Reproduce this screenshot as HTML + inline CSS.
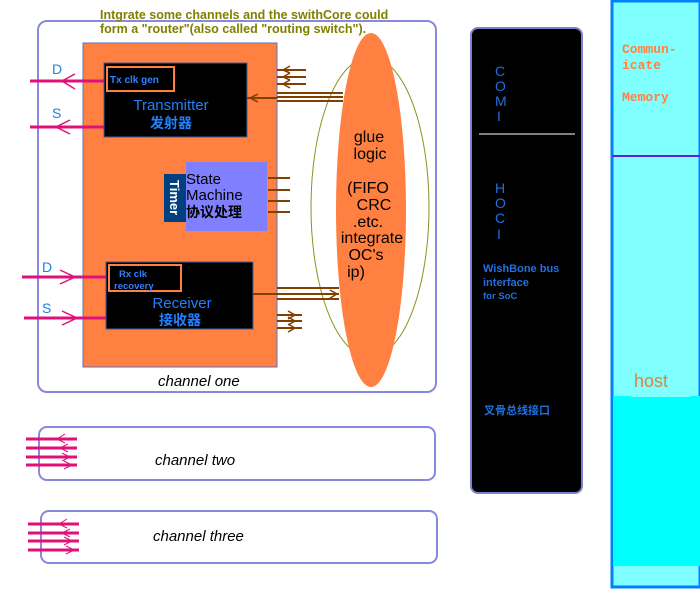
<!DOCTYPE html>
<html><head><meta charset="utf-8"><style>
html,body{margin:0;padding:0;background:#fff;}
svg{display:block;}
text{font-family:"Liberation Sans","Noto Sans CJK SC",sans-serif;}
</style></head><body>
<svg width="700" height="600" viewBox="0 0 700 600" xmlns="http://www.w3.org/2000/svg">
<rect width="700" height="600" fill="#fff"/>
<rect x="38" y="21" width="398" height="371" rx="9" fill="none" stroke="#8888e0" stroke-width="2"/>
<rect x="83" y="43" width="194" height="324" fill="#ff8040" stroke="#6070c0" stroke-width="1"/>
<ellipse cx="370" cy="207" rx="59" ry="150" fill="none" stroke="#909020" stroke-width="1"/>
<ellipse cx="371" cy="210" rx="35" ry="177" fill="#ff8040"/>
<g font-size="16" fill="#000" text-anchor="middle">
<text x="369" y="142">glue</text><text x="370" y="159">logic</text>
<text x="368" y="193">(FIFO</text><text x="374" y="210">CRC</text>
<text x="368" y="227">.etc.</text><text x="372" y="243">integrate</text>
<text x="366" y="260">OC's</text><text x="356" y="277">ip)</text>
</g>
<text x="100" y="19" font-size="12.5" font-weight="bold" fill="#808000">Intgrate some channels and the swithCore could</text>
<text x="100" y="33" font-size="12.5" font-weight="bold" fill="#808000">form a "router"(also called "routing switch").</text>
<rect x="104" y="63" width="143" height="74" fill="#000" stroke="#4060a0"/>
<rect x="107" y="67" width="67" height="24" fill="none" stroke="#ff8040" stroke-width="2"/>
<text x="110" y="83" font-size="10" font-weight="bold" fill="#3080ff">Tx clk gen</text>
<text x="171" y="110" font-size="15" fill="#2080ff" text-anchor="middle">Transmitter</text>
<text x="171" y="128" font-size="14" fill="#2080ff" text-anchor="middle" font-weight="bold">发射器</text>
<rect x="186" y="162" width="81" height="69" fill="#8080ff"/>
<rect x="164" y="174" width="22" height="48" fill="#004080"/>
<text transform="translate(170,180) rotate(90)" font-size="13" fill="#fff" font-weight="bold">Timer</text>
<text x="186" y="184" font-size="15" fill="#000">State</text>
<text x="186" y="200" font-size="15" fill="#000">Machine</text>
<text x="186" y="217" font-size="14" fill="#000" font-weight="bold">协议处理</text>
<rect x="106" y="262" width="147" height="67" fill="#000" stroke="#4060a0"/>
<rect x="109" y="265" width="72" height="26" fill="none" stroke="#ff8040" stroke-width="2"/>
<text x="119" y="277" font-size="9.5" font-weight="bold" fill="#3080ff">Rx clk</text>
<text x="114" y="289" font-size="9.5" font-weight="bold" fill="#3080ff">recovery</text>
<text x="182" y="308" font-size="15" fill="#2080ff" text-anchor="middle">Receiver</text>
<text x="180" y="325" font-size="14" fill="#2080ff" text-anchor="middle" font-weight="bold">接收器</text>
<text x="158" y="386" font-size="15" font-style="italic" fill="#000">channel one</text>
<g stroke="#804000" stroke-width="2" fill="none">
<path d="M277 70H306M277 77H306M277 84H306"/>
<path d="M290 66L283 70L290 73M290 73L283 77L290 80M290 80L283 84L290 88" stroke-width="1.5"/>
<path d="M277 93H343M277 97H343M277 101H343M247 98H277"/>
<path d="M258 94L250 98L258 102" stroke-width="1.5"/>
<path d="M268 178H290M268 190H290M268 201H290M268 212H290"/>
<path d="M277 288H339M277 294H339M277 299H339M253 294H277"/>
<path d="M330 290L337 294L330 298" stroke-width="1.5"/>
<path d="M277 315H302M277 321H302M277 328H302"/>
<path d="M288 311L295 315L288 319M288 317L295 321L288 325M288 324L295 328L288 332" stroke-width="1.5"/>
</g>
<g stroke="#e0107a" stroke-width="3" fill="none">
<path d="M30 81H104M30 127H104M22 277H106M24 318H106"/>
</g>
<g stroke="#e0107a" stroke-width="1.5" fill="none">
<path d="M75 74L62 81L75 89M70 120L56 127L70 134M60 270L75 277L60 284M62 311L77 318L62 325"/>
</g>
<g font-size="14" fill="#2080e0">
<text x="52" y="74">D</text><text x="52" y="118">S</text>
<text x="42" y="272">D</text><text x="42" y="313">S</text>
</g>
<rect x="39" y="427" width="396" height="53" rx="8" fill="none" stroke="#8888e0" stroke-width="2"/>
<rect x="41" y="511" width="396" height="52" rx="8" fill="none" stroke="#8888e0" stroke-width="2"/>
<text x="155" y="465" font-size="15" font-style="italic" fill="#000">channel two</text>
<text x="153" y="541" font-size="15" font-style="italic" fill="#000">channel three</text>
<g stroke="#e0107a" stroke-width="3" fill="none">
<path d="M26 439H77M26 448H77M26 457H77M26 465H77"/>
<path d="M28 524H79M28 533H79M28 541H79M28 550H79"/>
</g>
<g stroke="#e0107a" stroke-width="1" fill="none">
<path d="M65 434L57 439L65 443M68 444L60 448L68 452M62 453L70 457L62 461M64 461L72 465L64 469"/>
<path d="M67 519L59 524L67 528M70 529L62 533L70 537M64 537L72 541L64 545M66 546L74 550L66 554"/>
</g>
<rect x="471" y="28" width="111" height="465" rx="7" fill="#000" stroke="#8080d0" stroke-width="2"/>
<line x1="479" y1="134" x2="575" y2="134" stroke="#fff" stroke-width="1"/>
<g font-size="14" fill="#2070e0">
<text x="495" y="76">C</text><text x="495" y="91">O</text><text x="495" y="106">M</text><text x="497" y="121">I</text>
<text x="495" y="193">H</text><text x="495" y="208">O</text><text x="495" y="223">C</text><text x="497" y="239">I</text>
</g>
<g font-size="11" font-weight="bold" fill="#2070e0">
<text x="483" y="272">WishBone bus</text>
<text x="483" y="286">interface</text>
<text x="483" y="299" font-size="9.5">for SoC</text>
<text x="484" y="414" font-size="11">叉骨总线接口</text>
</g>
<rect x="612" y="1" width="88" height="586" fill="#80ffff" stroke="#0080ff" stroke-width="3"/>
<rect x="613" y="396" width="87" height="170" fill="#00ffff"/>
<rect x="631" y="367" width="59" height="30" fill="#80ffff"/>
<line x1="612" y1="156" x2="700" y2="156" stroke="#6020e0" stroke-width="2"/>
<text x="634" y="387" font-size="18" fill="#e08040">host</text>
<g font-size="13" fill="#ff8040" font-weight="bold">
<text x="622" y="53" style="font-family:'Liberation Mono',monospace">Commun-</text>
<text x="622" y="69" style="font-family:'Liberation Mono',monospace">icate</text>
<text x="622" y="101" style="font-family:'Liberation Mono',monospace">Memory</text>
</g>
</svg>
</body></html>
